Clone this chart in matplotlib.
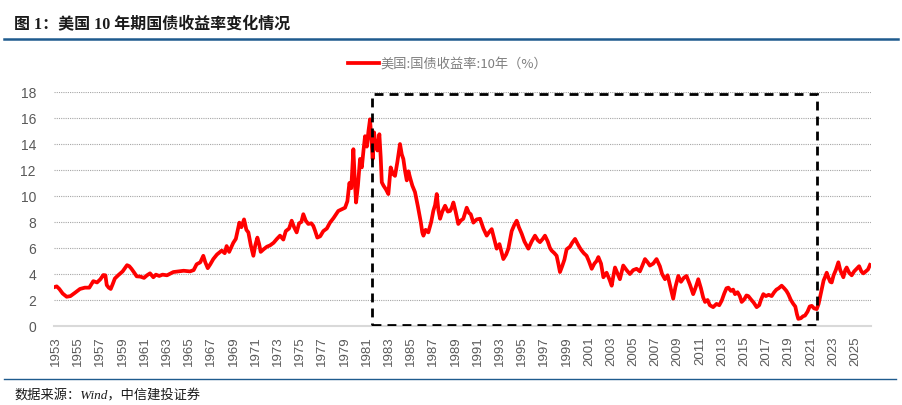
import matplotlib
matplotlib.use("Agg")
import matplotlib.pyplot as plt
from matplotlib.lines import Line2D
from matplotlib.patches import Rectangle

# US 10Y treasury yield (decimal year, %)
DATES = [
    1952.82, 1953.06, 1953.3, 1953.6, 1953.96, 1954.3, 1954.7, 1955.16, 1955.6, 1956.0,
    1956.36, 1956.7, 1957.0, 1957.26, 1957.45, 1957.57, 1957.75, 1957.93, 1958.1, 1958.3,
    1958.6, 1959.0, 1959.4, 1959.6, 1959.8, 1960.05, 1960.27, 1960.6, 1960.93, 1961.2,
    1961.47, 1961.77, 1962.0, 1962.3, 1962.6, 1963.0, 1963.57, 1964.0, 1964.5, 1965.07,
    1965.4, 1965.67, 1966.0, 1966.27, 1966.45, 1966.67, 1966.9, 1967.17, 1967.5, 1967.93,
    1968.2, 1968.37, 1968.6, 1968.97, 1969.2, 1969.52, 1969.7, 1969.94, 1970.15, 1970.33,
    1970.55, 1970.78, 1970.95, 1971.14, 1971.3, 1971.44, 1971.7, 1972.0, 1972.28, 1972.6,
    1972.9, 1973.18, 1973.48, 1973.7, 1974.0, 1974.23, 1974.45, 1974.68, 1974.9, 1975.1,
    1975.28, 1975.5, 1975.73, 1976.0, 1976.18, 1976.35, 1976.54, 1976.8, 1977.08, 1977.4,
    1977.68, 1978.0, 1978.43, 1978.8, 1979.04, 1979.25, 1979.43, 1979.6, 1979.79, 1979.9,
    1980.03, 1980.2, 1980.39, 1980.55, 1980.7, 1980.84, 1981.0, 1981.15, 1981.29, 1981.4,
    1981.53, 1981.65, 1981.8, 1981.95, 1982.13, 1982.25, 1982.35, 1982.5, 1982.73, 1982.94,
    1983.15, 1983.35, 1983.54, 1983.75, 1983.99, 1984.15, 1984.29, 1984.45, 1984.6, 1984.75,
    1984.9, 1985.1, 1985.34, 1985.6, 1985.86, 1986.0, 1986.1, 1986.3, 1986.54, 1986.8,
    1986.99, 1987.15, 1987.3, 1987.45, 1987.6, 1987.8, 1988.05, 1988.3, 1988.5, 1988.65,
    1988.8, 1989.0, 1989.24, 1989.45, 1989.69, 1990.0, 1990.2, 1990.36, 1990.6, 1990.9,
    1991.2, 1991.5, 1991.8, 1992.0, 1992.25, 1992.5, 1992.7, 1992.95, 1993.3, 1993.55,
    1993.75, 1994.05, 1994.3, 1994.5, 1994.7, 1994.95, 1995.2, 1995.55, 1995.85, 1996.15,
    1996.4, 1996.6, 1996.85, 1997.05, 1997.3, 1997.5, 1997.65, 1997.9, 1998.1, 1998.25,
    1998.4, 1998.6, 1998.8, 1999.0, 1999.3, 1999.5, 1999.76, 2000.0, 2000.2, 2000.36,
    2000.55, 2000.8, 2001.0, 2001.26, 2001.5, 2001.7, 2001.86, 2002.1, 2002.31, 2002.6,
    2002.85, 2003.06, 2003.2, 2003.36, 2003.6, 2003.8, 2004.1, 2004.4, 2004.7, 2005.0,
    2005.3, 2005.6, 2005.8, 2006.06, 2006.3, 2006.5, 2006.8, 2007.1, 2007.4, 2007.6,
    2007.86, 2008.1, 2008.35, 2008.6, 2008.8, 2009.06, 2009.3, 2009.55, 2009.8, 2010.1,
    2010.4, 2010.6, 2010.86, 2011.1, 2011.3, 2011.47, 2011.7, 2011.9, 2012.2, 2012.5,
    2012.75, 2012.97, 2013.2, 2013.4, 2013.57, 2013.8, 2014.0, 2014.17, 2014.4, 2014.6,
    2014.77, 2015.0, 2015.2, 2015.37, 2015.6, 2015.85, 2016.12, 2016.35, 2016.5, 2016.72,
    2016.95, 2017.2, 2017.47, 2017.7, 2017.9, 2018.1, 2018.37, 2018.6, 2018.8, 2018.97,
    2019.2, 2019.42, 2019.6, 2019.75, 2019.87, 2020.1, 2020.3, 2020.47, 2020.7, 2020.9,
    2021.08, 2021.3, 2021.53, 2021.7, 2021.85, 2021.98, 2022.15, 2022.3, 2022.43, 2022.6,
    2022.75, 2022.88, 2023.05, 2023.25, 2023.48, 2023.65, 2023.8, 2023.93, 2024.1, 2024.23,
    2024.45, 2024.68, 2024.9, 2025.13, 2025.35, 2025.55, 2025.73, 2025.95, 2026.15, 2026.33,
]
YIELD = [
    2.98, 3.05, 2.85, 2.5, 2.25, 2.3, 2.55, 2.85, 2.95, 2.95,
    3.45, 3.35, 3.6, 3.92, 3.9, 3.15, 2.95, 2.85, 3.2, 3.65,
    3.9, 4.2, 4.68, 4.6, 4.4, 4.1, 3.82, 3.8, 3.7, 3.9,
    4.05, 3.75, 3.95, 3.85, 3.95, 3.9, 4.15, 4.2, 4.25, 4.2,
    4.3, 4.75, 4.9, 5.4, 4.9, 4.45, 4.75, 5.15, 5.5, 5.8,
    5.6, 6.15, 5.7, 6.4, 6.7, 7.95, 7.6, 8.2, 7.4, 7.2,
    6.2, 5.4, 6.2, 6.8, 6.3, 5.7, 5.9, 6.1, 6.2, 6.4,
    6.7, 6.95, 6.65, 7.3, 7.5, 8.1, 7.6, 7.2, 7.9, 8.0,
    8.6, 8.1, 7.85, 7.9, 7.7, 7.3, 6.8, 6.9, 7.3, 7.5,
    7.95, 8.3, 8.85, 9.0, 9.1, 9.6, 11.0, 10.6, 13.6, 11.5,
    9.5, 10.8, 12.85, 12.2, 13.5, 14.6, 13.8, 15.0, 15.9, 14.5,
    12.85, 14.9, 13.9, 13.5, 14.75, 13.0, 11.05, 10.8, 10.5, 10.15,
    12.2, 11.7, 11.55, 12.6, 14.0, 13.2, 12.85, 11.9, 11.2, 11.9,
    11.4, 10.8, 10.3, 9.2, 8.0, 7.2, 6.95, 7.4, 7.2, 8.0,
    8.85, 9.3, 10.15, 8.9, 8.25, 8.8, 9.25, 8.8, 8.85, 9.1,
    9.5, 8.8, 7.85, 8.1, 8.25, 9.1, 8.7, 8.6, 7.95, 8.2,
    8.25, 7.5, 6.95, 7.2, 7.45, 6.6, 5.95, 6.3, 5.15, 5.5,
    5.95, 7.3, 7.8, 8.1, 7.6, 7.1, 6.5, 5.95, 6.5, 6.95,
    6.6, 6.45, 6.7, 6.95, 6.5, 6.0, 5.8, 5.6, 5.4, 4.8,
    4.15, 4.6, 5.1, 5.9, 6.1, 6.4, 6.7, 6.3, 6.0, 5.8,
    5.6, 5.4, 5.0, 4.4, 4.8, 5.0, 5.3, 4.8, 3.75, 4.1,
    3.6, 3.1, 3.8, 4.5, 4.0, 3.6, 4.65, 4.3, 4.0, 4.3,
    4.4, 4.2, 4.6, 5.15, 4.9, 4.65, 4.8, 5.15, 4.6, 4.0,
    3.6, 3.9, 3.0, 2.1, 3.0, 3.85, 3.4, 3.7, 3.85, 3.2,
    2.45, 2.9, 3.6, 2.9, 2.2, 1.85, 2.0, 1.6, 1.45, 1.7,
    1.6, 1.95, 2.5, 2.9, 2.95, 2.7, 2.8, 2.45, 2.6, 2.3,
    1.85, 2.05, 2.35, 2.3, 2.05, 1.8, 1.45, 1.6, 2.0, 2.45,
    2.3, 2.4, 2.3, 2.6, 2.8, 2.9, 3.1, 2.9, 2.7, 2.45,
    2.0, 1.7, 1.5, 0.9, 0.55, 0.6, 0.75, 0.8, 1.1, 1.5,
    1.55, 1.35, 1.3, 1.7, 2.3, 2.85, 3.5, 3.8, 4.1, 3.7,
    3.4, 3.35, 3.9, 4.3, 4.9, 4.3, 4.0, 3.75, 4.3, 4.5,
    4.1, 3.9, 4.2, 4.4, 4.6, 4.2, 4.05, 4.2, 4.35, 4.7,
]

TICK_YEARS = list(range(1953, 2026, 2))
Y_TICKS = list(range(0, 19, 2))

# highlighted period (dashed box)
BOX_START = 1981.47
BOX_END = 2021.56
BOX_LOW = 0.1
BOX_HIGH = 17.85

TITLE = "图 1：美国 10 年期国债收益率变化情况"
SERIES = "美国:国债收益率:10年（%）"
SOURCE = "数据来源：Wind，中信建投证券"

CJK = ["Noto Sans CJK SC", "DejaVu Sans"]
plt.rcParams["font.family"] = CJK

fig = plt.figure(figsize=(9.03, 4.06), dpi=100)
ax = fig.add_axes([54 / 903, 1 - 327 / 406, (871 - 54) / 903, (327 - 93) / 406])

ax.plot(DATES, YIELD, color="#ff0000", lw=2.7, label=SERIES, zorder=3,
        solid_joinstyle="round")

ax.add_patch(Rectangle((BOX_START, BOX_LOW), BOX_END - BOX_START, BOX_HIGH - BOX_LOW,
                       fill=False, edgecolor="black", lw=2.0,
                       linestyle=(0, (3.2, 2.2)), zorder=4))

ax.set_xlim(1952.82, 2026.42)
ax.set_ylim(0, 18)
ax.set_xticks(TICK_YEARS)
ax.set_xticklabels([str(y) for y in TICK_YEARS], rotation=90,
                   family=["Liberation Sans"], fontsize=9.5, color="#595959")
ax.set_yticks(Y_TICKS)
ax.set_yticklabels([str(v) for v in Y_TICKS], family=["Liberation Sans"],
                   fontsize=10, color="#595959")
ax.tick_params(axis="both", length=0)
ax.tick_params(axis="x", pad=7)
ax.tick_params(axis="y", pad=13)

ax.grid(axis="y", linestyle=(0, (1, 1)), color="#a6a6a6", lw=0.8)
ax.set_axisbelow(True)
for side in ["top", "right", "left"]:
    ax.spines[side].set_visible(False)
ax.spines["bottom"].set_color("#d9d9d9")
ax.spines["bottom"].set_linewidth(1.5)

leg = ax.legend(loc="center", bbox_to_anchor=(448 / 903, 1 - 65 / 406),
                bbox_transform=fig.transFigure, frameon=False,
                prop={"family": CJK, "size": 9.5},
                handlelength=2.3, handletextpad=0.15)
for t in leg.get_texts():
    t.set_color("#7f7f7f")

fig.text(14 / 903, 1 - 25 / 406, TITLE, family=["Liberation Serif", "Noto Sans CJK SC"],
         weight="bold", fontsize=11.5, va="center", ha="left", color="#1a1a1a")
fig.add_artist(Line2D([4 / 903, 898 / 903], [1 - 39.5 / 406] * 2,
                      transform=fig.transFigure, color="#1f5b8e", lw=1.8))
fig.add_artist(Line2D([4 / 903, 896 / 903], [1 - 380 / 406] * 2,
                      transform=fig.transFigure, color="#1f5b8e", lw=1.0))
fig.text(14 / 903, 1 - 396 / 406, SOURCE, family=["Liberation Serif", "Noto Sans CJK SC"],
         style="italic", fontsize=9.5, va="center", ha="left", color="#1a1a1a")

fig.savefig("out.png", dpi=100)
